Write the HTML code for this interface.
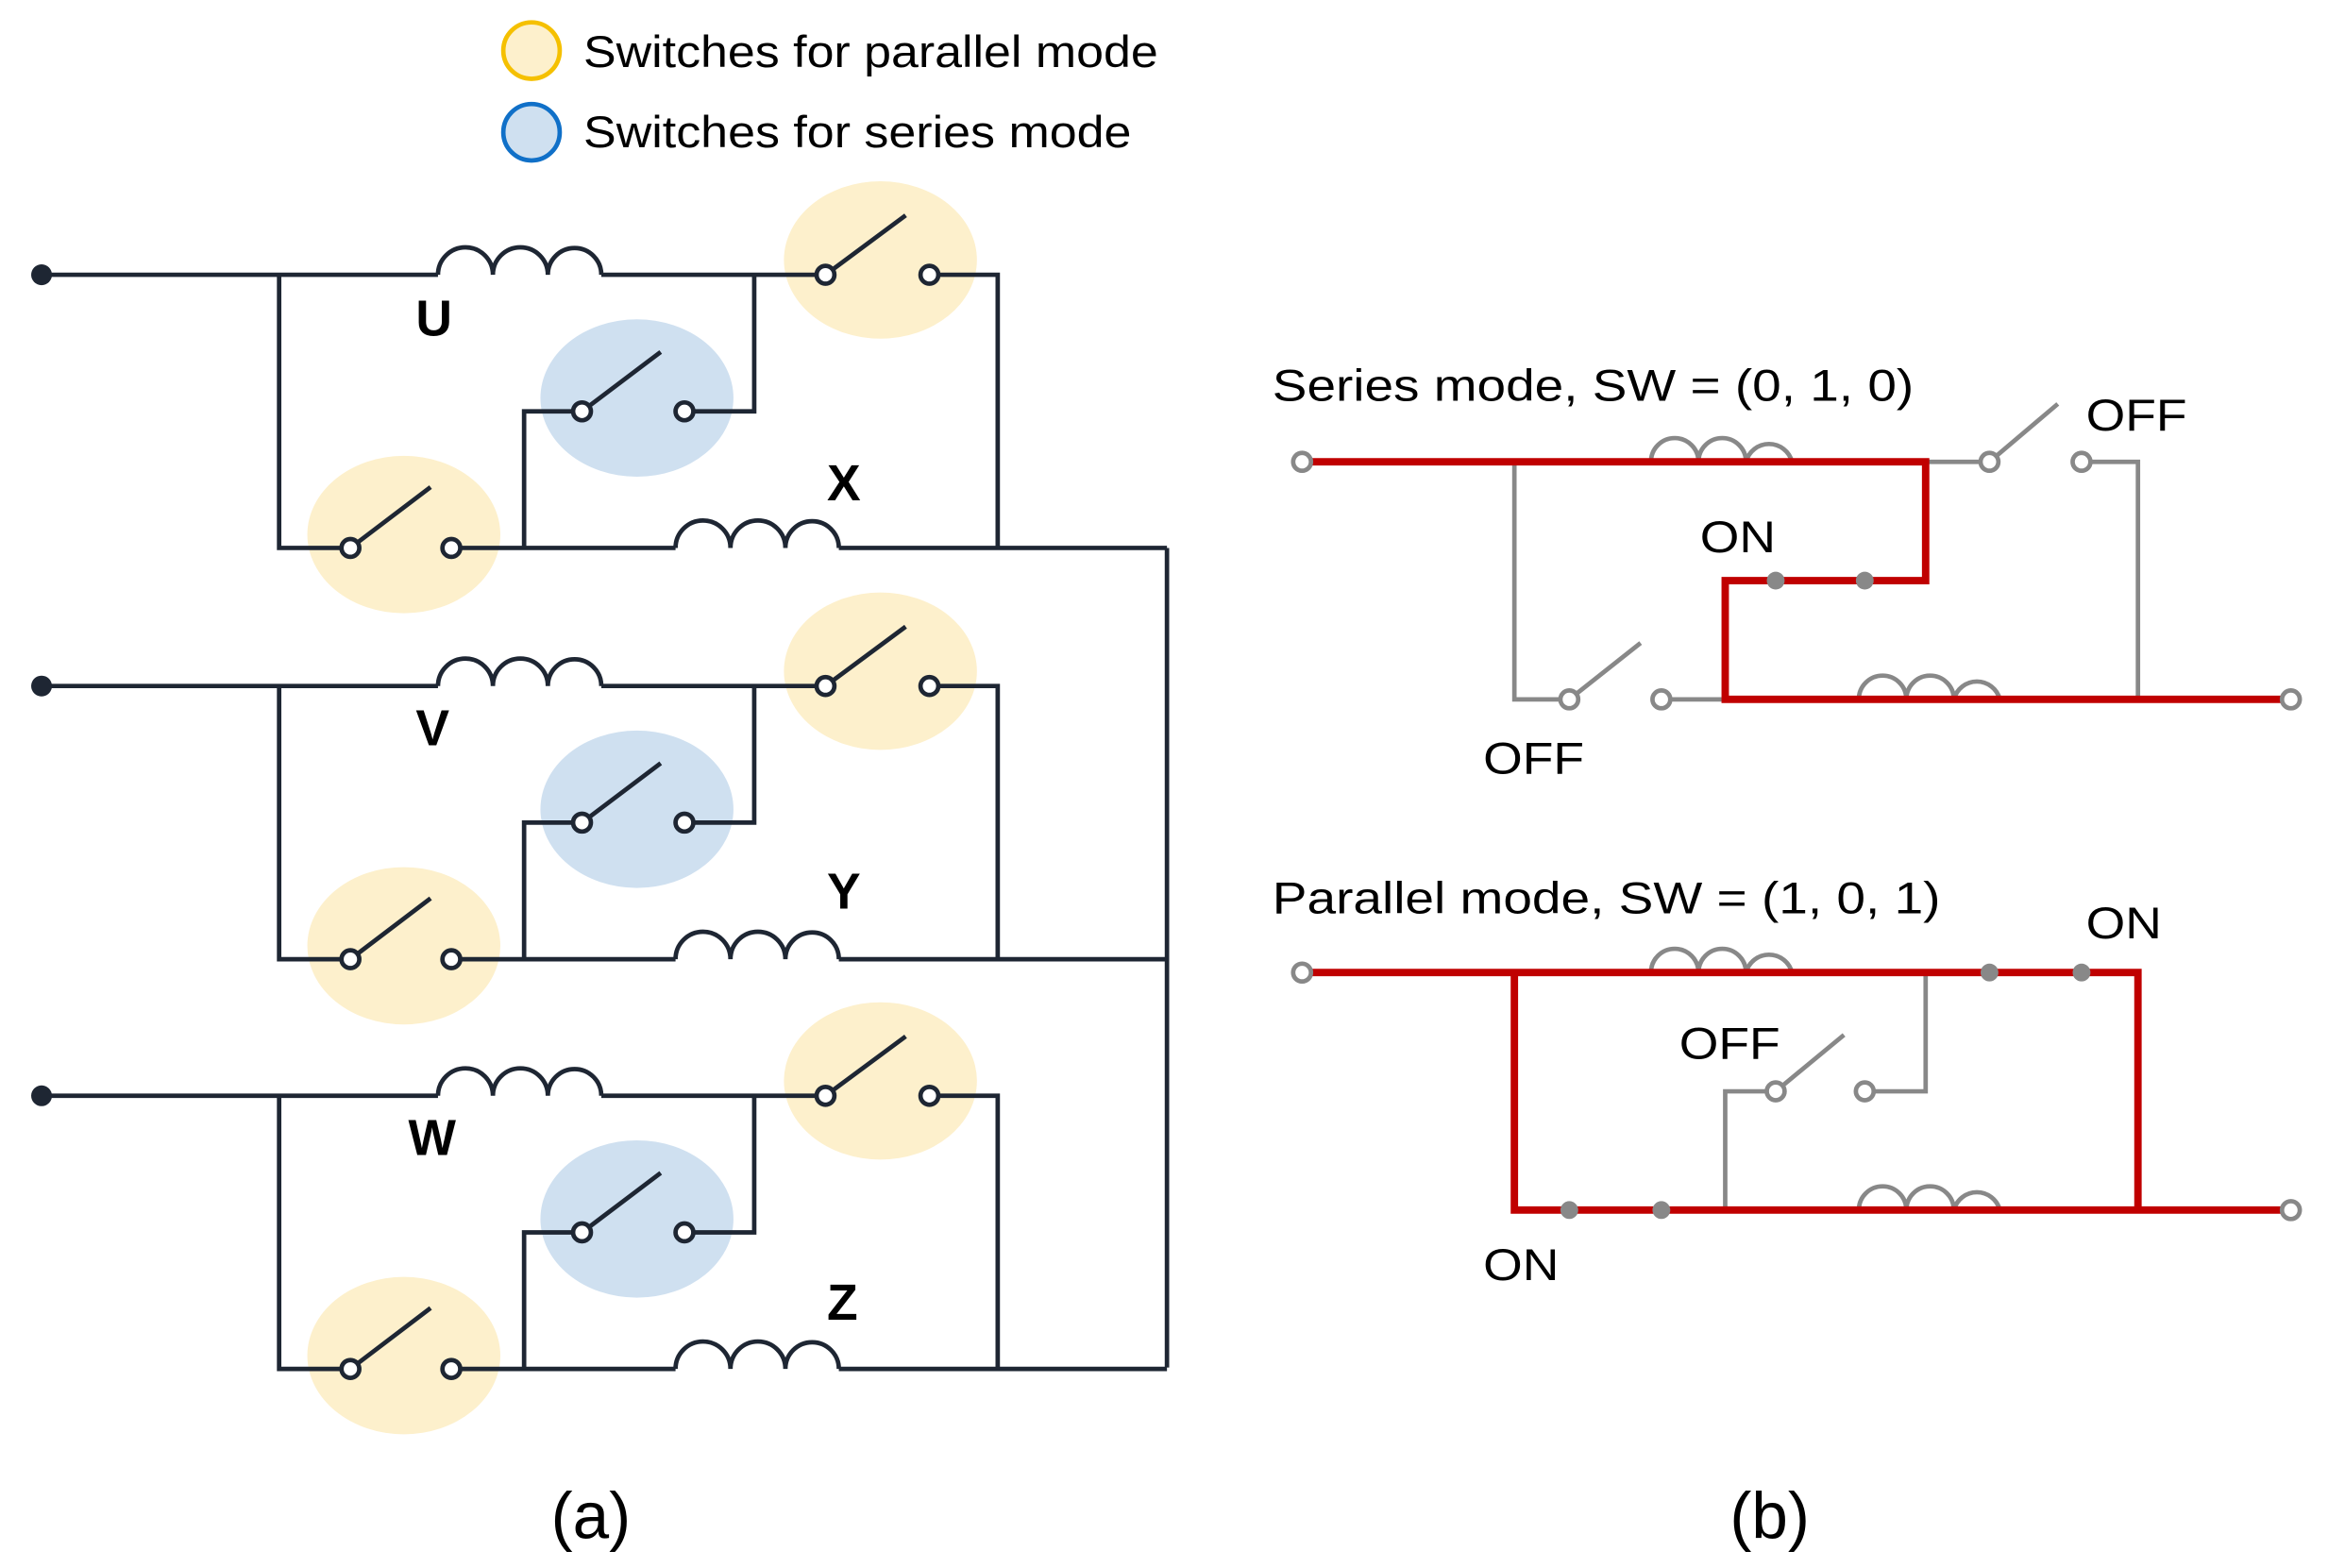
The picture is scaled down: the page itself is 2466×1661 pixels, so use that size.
<!DOCTYPE html>
<html><head><meta charset="utf-8"><style>
html,body{margin:0;padding:0;background:#fff;}
svg{display:block;}
text{font-family:"Liberation Sans","DejaVu Sans",sans-serif;}
</style></head><body>
<svg width="2466" height="1661" viewBox="0 0 1568 1056" xmlns="http://www.w3.org/2000/svg">
<defs>
<g id="row">
  <ellipse cx="593" cy="175" rx="65" ry="53" fill="#fdf0cc"/>
  <ellipse cx="272" cy="360" rx="65" ry="53" fill="#fdf0cc"/>
  <ellipse cx="429" cy="268" rx="65" ry="53" fill="#cfe0f0"/>
  <g fill="none" stroke="#1e2633" stroke-width="3">
    <path d="M28 185 H295 M405 185 H556 M556 185 L610 145 M632 185 H672 V369"/>
    <path d="M295 185 a18 18 0 0 1 37 0 a18 18 0 0 1 37 0 a18 18 0 0 1 36 0"/>
    <path d="M188 185 V369 H236 M236 369 L290 328 M310 369 H455 M565 369 H786"/>
    <path d="M455 369 a18 18 0 0 1 37 0 a18 18 0 0 1 37 0 a18 18 0 0 1 36 0"/>
    <path d="M353 369 V277 H392 M392 277 L445 237 M467 277 H508 V185"/>
  </g>
  <g fill="#fff" stroke="#1e2633" stroke-width="3">
    <circle cx="556" cy="185" r="6"/><circle cx="626" cy="185" r="6"/>
    <circle cx="236" cy="369" r="6"/><circle cx="304" cy="369" r="6"/>
    <circle cx="392" cy="277" r="6"/><circle cx="461" cy="277" r="6"/>
  </g>
  <circle cx="28" cy="185" r="7" fill="#1e2633"/>
</g>
</defs>
<circle cx="358" cy="34" r="19" fill="#fdf0cc" stroke="#f5c000" stroke-width="3"/>
<circle cx="358" cy="89" r="19" fill="#cfe0f0" stroke="#1070c8" stroke-width="3"/>
<text x="393" y="45" font-size="30" textLength="387" lengthAdjust="spacingAndGlyphs">Switches for parallel mode</text>
<text x="393" y="99" font-size="30" textLength="369" lengthAdjust="spacingAndGlyphs">Switches for series mode</text>

<use href="#row"/>
<use href="#row" transform="translate(0,277)"/>
<use href="#row" transform="translate(0,553)"/>
<path d="M786 369 V921" stroke="#1e2633" stroke-width="3" fill="none"/>
<g font-size="34" font-weight="bold" fill="#000">
<text x="280" y="226">U</text><text x="557" y="337">X</text>
<text x="280" y="502">V</text><text x="557" y="612">Y</text>
<text x="275" y="778">W</text><text x="557" y="889">Z</text>
</g>
<text x="398" y="1036" font-size="44" text-anchor="middle">(a)</text>
<text x="1192" y="1036" font-size="44" text-anchor="middle">(b)</text>

<!-- series -->
<text x="857" y="270" font-size="30" textLength="432" lengthAdjust="spacingAndGlyphs">Series mode, SW = (0, 1, 0)</text>
<g fill="none" stroke="#888" stroke-width="3">
  <path d="M1020 311 V471 H1057 M1057 471 L1105 433 M1125 471 H1162"/>
  <path d="M1297 311 H1340 M1340 311 L1386 272 M1408 311 H1440 V471"/>
  <path d="M1112 311 a16 16 0 0 1 32 0 a16 16 0 0 1 32 0 a16 16 0 0 1 31 0"/>
  <path d="M1252 471 a16 16 0 0 1 32 0 a16 16 0 0 1 32 0 a16 16 0 0 1 31 0"/>
</g>
<path d="M877 311 H1297 V391 H1162 V471 H1543" fill="none" stroke="#c00000" stroke-width="5"/>
<g fill="#fff" stroke="#888" stroke-width="3">
  <circle cx="877" cy="311" r="6"/><circle cx="1543" cy="471" r="6"/>
  <circle cx="1057" cy="471" r="6"/><circle cx="1119" cy="471" r="6"/>
  <circle cx="1340" cy="311" r="6"/><circle cx="1402" cy="311" r="6"/>
</g>
<circle cx="1196" cy="391" r="6" fill="#888"/><circle cx="1256" cy="391" r="6" fill="#888"/>
<text x="1405" y="290" font-size="30" textLength="68" lengthAdjust="spacingAndGlyphs">OFF</text>
<text x="1145" y="372" font-size="30" textLength="51" lengthAdjust="spacingAndGlyphs">ON</text>
<text x="999" y="521" font-size="30" textLength="68" lengthAdjust="spacingAndGlyphs">OFF</text>

<!-- parallel -->
<text x="857" y="615" font-size="30" textLength="450" lengthAdjust="spacingAndGlyphs">Parallel mode, SW = (1, 0, 1)</text>
<g fill="none" stroke="#888" stroke-width="3">
  <path d="M1297 655 V735 H1262 M1196 735 L1242 697 M1196 735 H1162 V815"/>
  <path d="M1112 655 a16 16 0 0 1 32 0 a16 16 0 0 1 32 0 a16 16 0 0 1 31 0"/>
  <path d="M1252 815 a16 16 0 0 1 32 0 a16 16 0 0 1 32 0 a16 16 0 0 1 31 0"/>
</g>
<path d="M877 655 H1440 V815 M1020 655 V815 H1543" fill="none" stroke="#c00000" stroke-width="5"/>
<g fill="#fff" stroke="#888" stroke-width="3">
  <circle cx="877" cy="655" r="6"/><circle cx="1543" cy="815" r="6"/>
  <circle cx="1196" cy="735" r="6"/><circle cx="1256" cy="735" r="6"/>
</g>
<circle cx="1340" cy="655" r="6" fill="#888"/><circle cx="1402" cy="655" r="6" fill="#888"/>
<circle cx="1057" cy="815" r="6" fill="#888"/><circle cx="1119" cy="815" r="6" fill="#888"/>
<text x="1405" y="632" font-size="30" textLength="51" lengthAdjust="spacingAndGlyphs">ON</text>
<text x="1131" y="713" font-size="30" textLength="68" lengthAdjust="spacingAndGlyphs">OFF</text>
<text x="999" y="862" font-size="30" textLength="51" lengthAdjust="spacingAndGlyphs">ON</text>
</svg>
</body></html>
